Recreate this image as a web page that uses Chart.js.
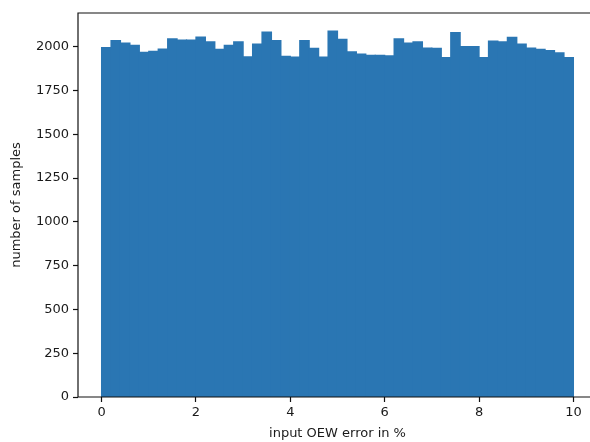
<!DOCTYPE html>
<html>
<head>
<meta charset="utf-8">
<script src="https://cdn.jsdelivr.net/npm/chart.js@4"></script>
<style>
    body { margin: 0; overflow: hidden; background: #fff; }
    #wrap { width: 600px; height: 442px; }
</style>
</head>
<body>
<div id="wrap"><canvas id="histChart" width="600" height="442"></canvas></div>
<script>
// histogram of input OEW error, 50 bins between 0 and 10 %
const binLow = 0;
const binWidth = 0.2;
const sampleCounts = [
    1995, 2035, 2020, 2008, 1968, 1973, 1986, 2045, 2037, 2037,
    2055, 2027, 1985, 2008, 2027, 1942, 2015, 2083, 2035, 1945,
    1940, 2034, 1990, 1940, 2088, 2042, 1970, 1957, 1950, 1950,
    1948, 2045, 2020, 2027, 1992, 1990, 1937, 2080, 2000, 2000,
    1938, 2032, 2028, 2053, 2015, 1992, 1985, 1978, 1965, 1938
];
const xTicks = [0, 2, 4, 6, 8, 10];
const yTicks = [0, 250, 500, 750, 1000, 1250, 1500, 1750, 2000];

const fontFamily = "'DejaVu Sans', sans-serif";
const tickFont = { family: fontFamily, size: 13 };

// matplotlib style frame: left, top and bottom spines (right one is cut off in the picture)
const spinePlugin = {
    id: 'spines',
    afterDraw: function (chart) {
        const { ctx, chartArea } = chart;
        ctx.save();
        ctx.strokeStyle = '#111';
        ctx.lineWidth = 1.2;
        ctx.beginPath();
        ctx.moveTo(chartArea.right, chartArea.bottom);
        ctx.lineTo(chartArea.left, chartArea.bottom);
        ctx.lineTo(chartArea.left, chartArea.top);
        ctx.lineTo(chartArea.right, chartArea.top);
        ctx.stroke();
        ctx.restore();
    }
};

const points = sampleCounts.map(function (c, i) {
    return { x: binLow + binWidth * (i + 0.5), y: c };
});

new Chart('histChart', {
    type: 'bar',
    data: {
        datasets: [{
            data: points,
            backgroundColor: '#2a76b3',
            borderWidth: 0,
            inflateAmount: 0.6,
            barPercentage: 1,
            categoryPercentage: 1
        }]
    },
    options: {
        responsive: false,
        animation: false,
        layout: { padding: { top: 13, right: 3, left: 0, bottom: 0 } },
        plugins: {
            legend: { display: false },
            tooltip: { enabled: false }
        },
        scales: {
            x: {
                type: 'linear',
                min: -0.5,
                max: 10.5,
                offset: false,
                afterBuildTicks: function (axis) {
                    axis.ticks = xTicks.map(v => ({ value: v }));
                },
                afterFit: function (axis) { axis.height = 45; },
                grid: { offset: false, drawOnChartArea: false, tickLength: 5, tickColor: '#111', tickWidth: 1.2 },
                border: { display: false },
                ticks: { font: tickFont, color: '#1a1a1a', padding: 3, maxRotation: 0,
                    callback: v => String(v) },
                title: {
                    display: true,
                    text: 'input OEW error in %',
                    font: tickFont,
                    color: '#1a1a1a',
                    padding: { top: 0, bottom: 1 }
                }
            },
            y: {
                min: 0,
                max: 2192,
                afterBuildTicks: function (axis) {
                    axis.ticks = yTicks.map(v => ({ value: v }));
                },
                afterFit: function (axis) { axis.width = 78; },
                grid: { drawOnChartArea: false, tickLength: 5, tickColor: '#111', tickWidth: 1.2 },
                border: { display: false },
                ticks: { font: tickFont, color: '#1a1a1a', padding: 4,
                    callback: v => String(v) },
                title: {
                    display: true,
                    text: 'number of samples',
                    font: tickFont,
                    color: '#1a1a1a',
                    padding: { top: 9, bottom: 0 }
                }
            }
        }
    },
    plugins: [spinePlugin]
});
</script>
</body>
</html>
